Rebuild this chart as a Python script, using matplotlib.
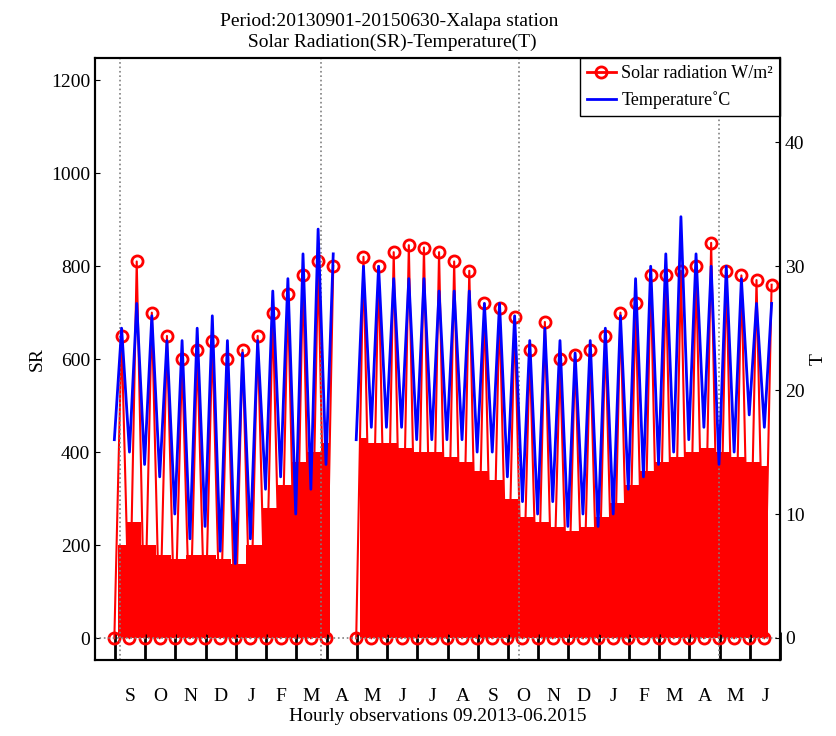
import numpy as np
import matplotlib.pyplot as plt

plt.rcParams['font.family'] = ['Liberation Serif', 'DejaVu Serif']

# half-month readings, Sep 2013 .. Jun 2015 (x in months from 1 Sep 2013)
sr_peak = [650, 810, 700, 650, 600, 620, 640, 600, 620, 650, 700, 740, 780, 810, 800, 820,
           820, 800, 830, 845, 840, 830, 810, 790, 720, 710, 690, 620, 680, 600, 610, 620,
           650, 700, 720, 780, 780, 790, 800, 850, 790, 780, 770, 760]
sr_dense = [200, 250, 200, 180, 170, 180, 180, 170, 160, 200, 280, 330, 380, 400, 420, 440,
            430, 420, 420, 410, 400, 400, 390, 380, 360, 340, 300, 260, 250, 240, 230, 240,
            260, 290, 330, 360, 380, 390, 400, 410, 400, 390, 380, 370]
t_min = [16, 15, 14, 13, 10, 8, 9, 7, 6, 8, 12, 13, 10, 12, 14, 16, 16, 17, 17, 17, 16, 16,
         16, 16, 15, 15, 13, 11, 10, 11, 9, 10, 9, 10, 12, 13, 14, 15, 16, 17, 14, 15, 18, 17]
t_max = [25, 27, 26, 24, 24, 25, 26, 24, 23, 24, 28, 29, 31, 33, 31, 30, 30, 30, 29, 29, 29, 28,
         28, 28, 27, 27, 26, 24, 25, 24, 23, 24, 25, 26, 29, 30, 31, 34, 31, 30, 30, 29, 27, 27]
month_labels = ['S', 'O', 'N', 'D', 'J', 'F', 'M', 'A', 'M', 'J', 'J', 'A', 'S', 'O', 'N', 'D',
                'J', 'F', 'M', 'A', 'M', 'J']
marker_lines = [0.17, 6.8, 13.35, 19.97]
gap = (7.4, 7.8)

half_month_x = np.arange(len(sr_peak)) * 0.5 + 0.1

fig = plt.figure(figsize=(8.37, 7.36), dpi=100)
ax = fig.add_axes([0.1135, 0.103, 0.8185, 0.818])
ax2 = ax.twinx()

x = half_month_x
segs = [x < gap[0], x >= gap[1]]
for m in segs:
    xs = x[m]
    ax.fill_between(xs, 0, np.array(sr_dense)[m], step='mid', color='red', lw=0)
    xx = np.repeat(xs, 2) + np.tile([-0.12, 0.12], len(xs))
    yy = np.ravel(np.column_stack([np.zeros(len(xs)), np.array(sr_peak)[m]]))
    ax.plot(xx, yy, color='red', marker='o', mfc='none', ms=8, mew=2, lw=1.5)
    tt = np.ravel(np.column_stack([np.array(t_min)[m], np.array(t_max)[m]]))
    ax2.plot(xx, tt, color='blue', lw=2)

for v in marker_lines:
    ax.axvline(v, color='grey', ls=':', lw=1.2)
ax.axhline(0, color='grey', ls=':', lw=1.2)

ax.set_xlim(-0.66, 22.0)
ax.set_ylim(-47, 1247)
ax2.set_ylim(-1.8, 46.8)
ax.set_yticks(range(0, 1201, 200))
ax2.set_yticks(range(0, 41, 10))
ax.set_xticks(np.arange(22) + 0.5)
ax.set_xticklabels(month_labels, fontsize=14)
ax.set_xticks(np.arange(23), minor=True)
ax.tick_params(axis='x', which='major', length=0, pad=20)
ax.tick_params(axis='x', which='minor', length=20, width=2, direction='in')
ax.tick_params(axis='y', labelsize=14, direction='in')
ax2.tick_params(axis='y', labelsize=14, direction='in')
for a in (ax, ax2):
    for s in a.spines.values():
        s.set_linewidth(1.5)

ax.set_ylabel('SR', fontsize=14)
ax2.set_ylabel('T', fontsize=14)
ax.set_xlabel('Hourly observations 09.2013-06.2015', fontsize=14, labelpad=2)
ax.set_title('Period:20130901-20150630-Xalapa station\n Solar Radiation(SR)-Temperature(T)',
             fontsize=14, linespacing=1.3, pad=8, x=0.43)

h1, = ax.plot([], [], color='red', marker='o', mfc='none', ms=8, mew=2, lw=2)
h2, = ax.plot([], [], color='blue', lw=2)
leg = ax.legend([h1, h2], ['Solar radiation W/m²', 'Temperature˚C'], loc='upper right',
                fontsize=13, borderaxespad=0, handlelength=1.6, handletextpad=0.3,
                framealpha=1, fancybox=False)
leg.get_frame().set_edgecolor('black')

fig.savefig('out.png', dpi=100)
